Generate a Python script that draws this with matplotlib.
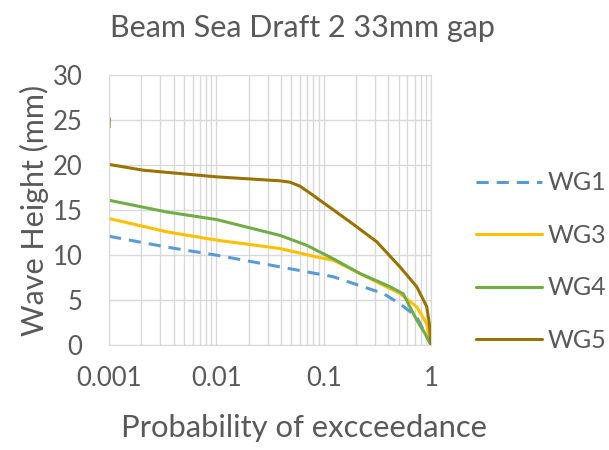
import numpy as np
import matplotlib
matplotlib.use("Agg")
import matplotlib.pyplot as plt
from matplotlib.ticker import FixedLocator, LogLocator, NullFormatter, FixedFormatter

plt.rcParams['font.family'] = ['Lato', 'DejaVu Sans']

title = "Beam Sea Draft 2 33mm gap"
xlabel = "Probability of excceedance"
ylabel = "Wave Height (mm)"
xticks = [0.001, 0.01, 0.1, 1]
xticklabels = ["0.001", "0.01", "0.1", "1"]
yticks = [0, 5, 10, 15, 20, 25, 30]

wg1_logx = [-3.0, -2.465, -2.0, -1.409, -0.912, -0.446, -0.291, -0.135, 0.0]
wg1_y = [12.1, 10.9, 10.0, 8.7, 7.6, 5.74, 4.6, 3.15, 0.0]

wg3_logx = [-3.0, -2.465, -2.0, -1.409, -1.067, -0.912, -0.726, -0.291, -0.135, -0.042, 0.0]
wg3_y = [14.07, 12.6, 11.67, 10.74, 9.8, 9.44, 8.33, 5.74, 4.26, 2.4, 0.0]

wg4_logx = [-3.0, -2.465, -2.0, -1.409, -1.16, -0.912, -0.663, -0.508, -0.384, -0.26, -0.198, -0.135, -0.058, 0.0]
wg4_y = [16.1, 14.8, 13.96, 12.2, 11.1, 9.6, 7.96, 7.15, 6.5, 5.7, 4.26, 2.8, 1.3, 0.0]

wg5_logx = [-3.0, -2.998, np.nan, -3.0, -2.683, -2.0, -1.409, -1.316, -1.223, -1.129, -1.036,
            -0.756, -0.508, -0.291, -0.135, -0.042, -0.017, 0.0]
wg5_y = [24.2, 25.2, np.nan, 20.08, 19.44, 18.7, 18.26, 18.11, 17.67, 16.9, 16.1,
         13.7, 11.5, 8.7, 6.5, 4.3, 2.4, 0.0]

series = [
    ("WG1", wg1_logx, wg1_y, "#5B9BD5", (0, (4, 2.6))),
    ("WG3", wg3_logx, wg3_y, "#FFC000", "-"),
    ("WG4", wg4_logx, wg4_y, "#70AD47", "-"),
    ("WG5", wg5_logx, wg5_y, "#997300", "-"),
]

fig = plt.figure(figsize=(6.09, 4.5), dpi=100)
ax = fig.add_axes([0.179, 0.233, 0.529, 0.600])

for name, lx, y, c, ls in series:
    x = 10 ** np.array(lx, dtype=float)
    ax.plot(x, y, color=c, lw=2.2, ls=ls, label=name, solid_capstyle='round',
            solid_joinstyle='round')

ax.set_xscale('log')
ax.set_xlim(0.001, 1)
ax.set_ylim(0, 30)
ax.xaxis.set_major_locator(FixedLocator(xticks))
ax.xaxis.set_major_formatter(FixedFormatter(xticklabels))
ax.xaxis.set_minor_locator(LogLocator(base=10, subs=np.arange(2, 10)))
ax.xaxis.set_minor_formatter(NullFormatter())
ax.set_yticks(yticks)
ax.grid(True, which='major', color='#D9D9D9', lw=1)
ax.grid(True, which='minor', axis='x', color='#D9D9D9', lw=1)
ax.set_axisbelow(True)
for s in ax.spines.values():
    s.set_color('#D9D9D9')
ax.tick_params(which='both', length=0, labelsize=18.5, colors='#595959')
ax.tick_params(axis='x', pad=15)
ax.tick_params(axis='y', pad=19)

fig.text(0.496, 0.918, title, fontsize=22, color='#595959', ha='center', va='baseline')
fig.text(0.499, 0.029, xlabel, fontsize=22.3, color='#595959', ha='center', va='baseline')
fig.text(0.056, 0.533, ylabel, fontsize=22, color='#595959', ha='center', va='center',
         rotation=90)

leg = ax.legend(loc='center left', bbox_to_anchor=(1.14, 0.309), frameon=False,
                fontsize=18, handlelength=2.64, labelspacing=1.18, handletextpad=0.2,
                borderpad=0, borderaxespad=0, labelcolor='#595959')

fig.savefig("out.png", dpi=100)
